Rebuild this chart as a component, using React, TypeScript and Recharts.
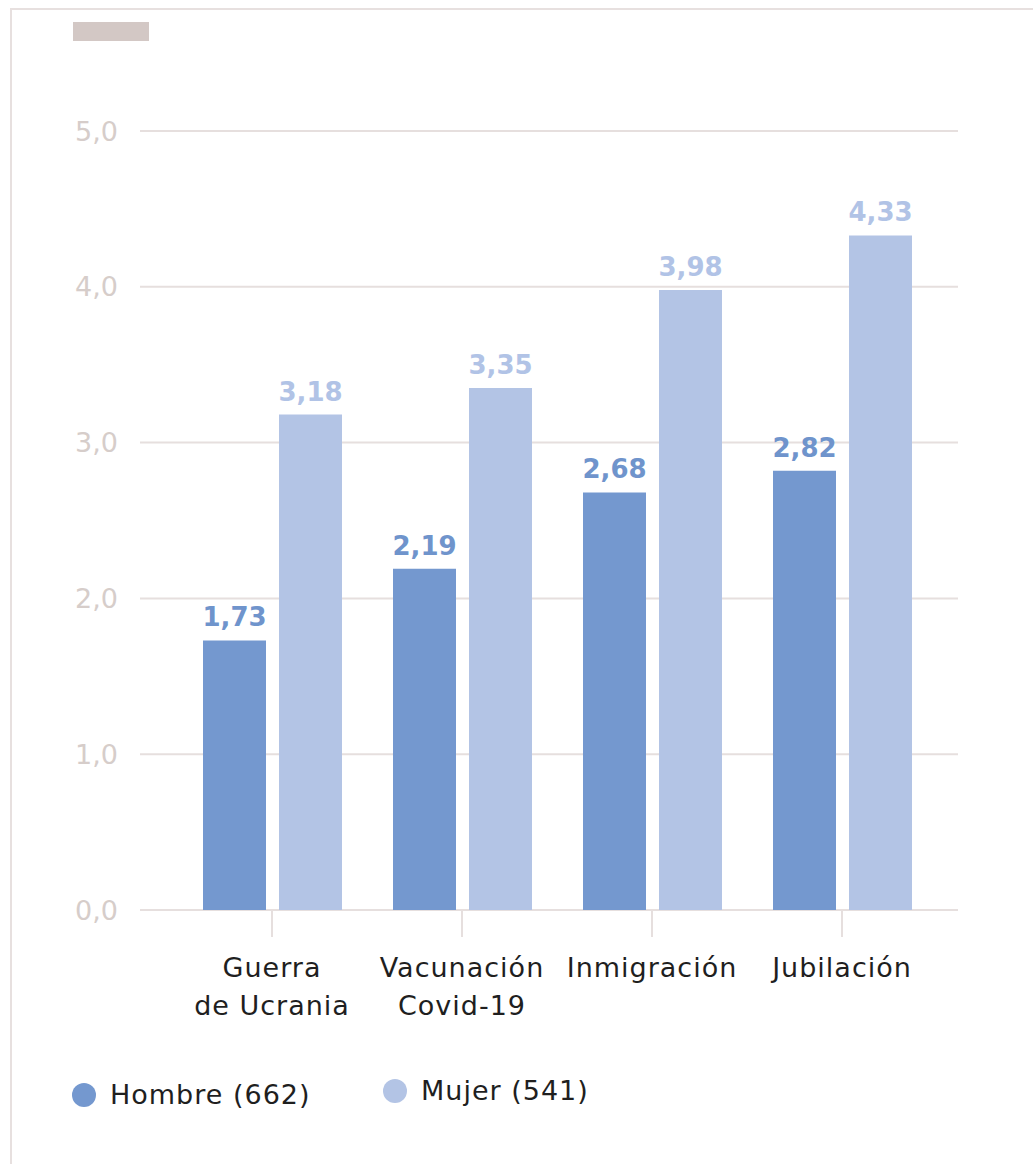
import React from 'react'
import { BarChart, Bar, XAxis, YAxis, CartesianGrid, LabelList } from 'recharts'

const categories = ['Guerra\nde Ucrania', 'Vacunación\nCovid-19', 'Inmigración', 'Jubilación']
const hombre = [1.73, 2.19, 2.68, 2.82]
const mujer = [3.18, 3.35, 3.98, 4.33]
const yTicks = [0, 1, 2, 3, 4, 5]
const seriesNames = ['Hombre (662)', 'Mujer (541)']

const COLORS = {
  hombre: '#7498cf',
  hombreLabel: '#6f94cc',
  mujer: '#b3c4e5',
  mujerLabel: '#b1c3e6',
  grid: '#e6dfde',
  axisText: '#d6cdca',
  text: '#1f1f1f',
  frame: '#e7e0df',
  stub: '#d3c8c5'
}

const FONT = '"DejaVu Sans", sans-serif'

const data = categories.map((name, i) => ({ name, hombre: hombre[i], mujer: mujer[i] }))

const fmt2 = (v: number) => v.toFixed(2).replace('.', ',')
const fmt1 = (v: number) => v.toFixed(1).replace('.', ',')

function CategoryTick({ x, y, payload }: any) {
  const lines = String(payload.value).split('\n')
  return (
    <text x={x} y={y} textAnchor="middle" fill={COLORS.text} fontSize={27} letterSpacing={1} fontFamily={FONT}>
      {lines.map((line, i) => (
        <tspan key={i} x={x} dy={38}>
          {line}
        </tspan>
      ))}
    </text>
  )
}

const legendItem = { position: 'absolute' as const, display: 'flex', alignItems: 'center', fontSize: 27, letterSpacing: 1, color: COLORS.text }
const dot = { width: 24, height: 24, borderRadius: 12, display: 'inline-block', marginRight: 14 }

export default function App() {
  return (
    <div
      style={{
        position: 'absolute',
        left: 0,
        top: 0,
        width: 1033,
        height: 1164,
        overflow: 'hidden',
        background: '#fff',
        fontFamily: FONT
      }}
    >
      <div
        style={{
          position: 'absolute',
          left: 10,
          top: 8,
          width: 1100,
          height: 1200,
          borderLeft: `2px solid ${COLORS.frame}`,
          borderTop: `2px solid ${COLORS.frame}`
        }}
      />
      <div style={{ position: 'absolute', left: 73, top: 22, width: 76, height: 19, background: COLORS.stub }} />

      <div style={{ position: 'absolute', left: 0, top: 0 }}>
        <BarChart
          width={1033}
          height={1050}
          data={data}
          margin={{ top: 131, right: 75, left: 0, bottom: 0 }}
          barSize={63}
          barGap={13}
        >
          <CartesianGrid vertical={false} stroke={COLORS.grid} strokeWidth={2} />
          <XAxis
            dataKey="name"
            height={140}
            padding={{ left: 37, right: 21 }}
            axisLine={false}
            tickSize={27}
            tickLine={{ stroke: COLORS.grid, strokeWidth: 2 }}
            tick={<CategoryTick />}
            interval={0}
          />
          <YAxis
            width={140}
            domain={[0, 5]}
            ticks={yTicks}
            axisLine={false}
            tickLine={false}
            tickSize={0}
            tickMargin={22}
            tickFormatter={fmt1}
            tick={{ fontSize: 27, fill: COLORS.axisText, fontFamily: FONT }}
          />
          <Bar dataKey="hombre" fill={COLORS.hombre} isAnimationActive={false}>
            <LabelList
              dataKey="hombre"
              position="top"
              offset={14}
              formatter={(v: any) => fmt2(Number(v))}
              style={{ fill: COLORS.hombreLabel, fontSize: 26, fontWeight: 700, fontFamily: FONT }}
            />
          </Bar>
          <Bar dataKey="mujer" fill={COLORS.mujer} isAnimationActive={false}>
            <LabelList
              dataKey="mujer"
              position="top"
              offset={14}
              formatter={(v: any) => fmt2(Number(v))}
              style={{ fill: COLORS.mujerLabel, fontSize: 26, fontWeight: 700, fontFamily: FONT }}
            />
          </Bar>
        </BarChart>
      </div>

      <div style={{ ...legendItem, left: 72, top: 1079 }}>
        <span style={{ ...dot, background: COLORS.hombre }} />
        <span>{seriesNames[0]}</span>
      </div>
      <div style={{ ...legendItem, left: 383, top: 1075 }}>
        <span style={{ ...dot, background: COLORS.mujer }} />
        <span>{seriesNames[1]}</span>
      </div>
    </div>
  )
}
